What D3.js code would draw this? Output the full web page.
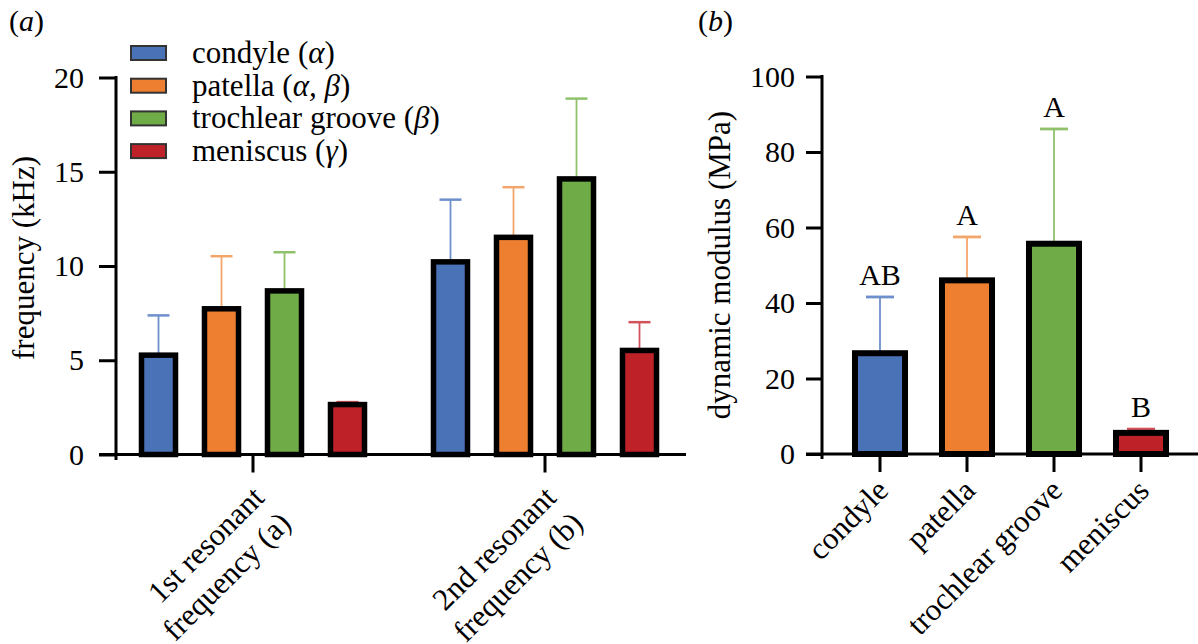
<!DOCTYPE html>
<html><head><meta charset="utf-8">
<script src="https://cdn.jsdelivr.net/npm/d3@7"></script>
<style>
body{margin:0;background:#fff;}
svg{display:block;font-family:"Liberation Serif","Times New Roman",serif;}
</style></head>
<body><svg id="c" width="1198" height="644"></svg>
<script>
// ---- data ----
const seriesNames = ["condyle", "patella", "trochlear groove", "meniscus"];
const legendGreek = ["\u03B1", "\u03B1, \u03B2", "\u03B2", "\u03B3"];
const colors = ["#4a72b6", "#ee7f31", "#6fab46", "#bf2128"];
const errColors = ["#6d90cc", "#f3a66c", "#8fc26b", "#d2545a"];

const freqGroups = ["1st resonant|frequency (a)", "2nd resonant|frequency (b)"];
const freqMean = [[5.27, 7.73, 8.68, 2.65], [10.22, 11.52, 14.62, 5.52]];
const freqUpper = [[7.38, 10.52, 10.73, 2.78], [13.52, 14.18, 18.88, 7.02]];
const freqTicks = [0, 5, 10, 15, 20];

const modMean = [26.7, 46.0, 55.7, 5.6];
const modUpper = [41.6, 57.5, 86.1, 6.6];
const modLetters = ["AB", "A", "A", "B"];
const modTicks = [0, 20, 40, 60, 80, 100];

const svg = d3.select("#c");
const FS = 30;

// ================= Panel (a) =================
const ya = d3.scaleLinear().domain([0, 20]).range([454.5, 77.5]);
const xa = d3.scaleBand().domain(freqGroups).range([107, 691]).paddingInner(0).paddingOuter(0);
const xi = d3.scaleBand().domain(seriesNames).range([-126, 126]).paddingInner(0.46).paddingOuter(0.23);

const ga = svg.append("g");
// error bars
freqGroups.forEach((grp, gi) => {
  const cx0 = xa(grp) + xa.bandwidth() / 2;
  seriesNames.forEach((s, si) => {
    const cx = cx0 + xi(s) + xi.bandwidth() / 2;
    ga.append("line").attr("x1", cx).attr("x2", cx)
      .attr("y1", ya(freqMean[gi][si])).attr("y2", ya(freqUpper[gi][si]))
      .attr("stroke", errColors[si]).attr("stroke-width", 1.8);
    ga.append("line").attr("x1", cx - 11).attr("x2", cx + 11)
      .attr("y1", ya(freqUpper[gi][si])).attr("y2", ya(freqUpper[gi][si]))
      .attr("stroke", errColors[si]).attr("stroke-width", 2.5);
  });
});
// bars
freqGroups.forEach((grp, gi) => {
  const cx0 = xa(grp) + xa.bandwidth() / 2;
  ga.selectAll(null).data(seriesNames).enter().append("rect")
    .attr("x", s => cx0 + xi(s))
    .attr("width", xi.bandwidth())
    .attr("y", (s, si) => ya(freqMean[gi][si]))
    .attr("height", (s, si) => ya(0) - ya(freqMean[gi][si]))
    .attr("fill", (s, si) => colors[si])
    .attr("stroke", "#000").attr("stroke-width", 5.5);
});
// y axis
const yAxA = ga.append("g").attr("transform", "translate(116,0)")
  .call(d3.axisLeft(ya).tickValues(freqTicks).tickSize(17).tickPadding(15).tickSizeOuter(0));
yAxA.select(".domain").remove();
yAxA.append("line").attr("x1", 0).attr("x2", 0).attr("y1", ya(20) - 1.5).attr("y2", 460)
  .attr("stroke", "#000").attr("stroke-width", 3);
// x axis
ga.append("line").attr("x1", 99).attr("x2", 686).attr("y1", ya(0)).attr("y2", ya(0))
  .attr("stroke", "#000").attr("stroke-width", 3);
const xAxA = ga.append("g").attr("transform", `translate(0,${ya(0)})`)
  .call(d3.axisBottom(xa).tickSize(18).tickFormat(""));
xAxA.select(".domain").remove();
// rotated two-line labels
freqGroups.forEach(grp => {
  const cx = xa(grp) + xa.bandwidth() / 2;
  const lines = grp.split("|");
  const t = ga.append("g").attr("transform", `translate(${cx},474) rotate(-45)`)
    .append("text").attr("text-anchor", "end").attr("font-size", FS + 1);
  t.append("tspan").attr("x", -9).attr("y", 27).text(lines[0]);
  t.append("tspan").attr("x", -8).attr("y", 64).text(lines[1]);
});
// y label
ga.append("text").attr("transform", `translate(34,258) rotate(-90)`)
  .attr("text-anchor", "middle").attr("font-size", FS + 1).text("frequency (kHz)");
// panel tag
const ta = ga.append("text").attr("x", 9).attr("y", 31).attr("font-size", FS);
ta.append("tspan").text("(");
ta.append("tspan").attr("font-style", "italic").text("a");
ta.append("tspan").text(")");
// legend
const lg = ga.append("g");
seriesNames.forEach((s, i) => {
  const cy = 53 + i * 32.7;
  lg.append("rect").attr("x", 131).attr("y", cy - 7).attr("width", 35).attr("height", 14)
    .attr("fill", colors[i]).attr("stroke", "#333").attr("stroke-width", 2);
  const t = lg.append("text").attr("x", 192).attr("y", cy + 10).attr("font-size", FS + 1);
  t.append("tspan").text(s + " (");
  t.append("tspan").attr("font-style", "italic").text(legendGreek[i]);
  t.append("tspan").text(")");
});

// ================= Panel (b) =================
const yb = d3.scaleLinear().domain([0, 100]).range([454, 76.5]);
const xb = d3.scaleBand().domain(seriesNames).range([836.5, 1184.5]).paddingInner(0.425).paddingOuter(0.2125);
const gb = svg.append("g");
seriesNames.forEach((s, i) => {
  const cx = xb(s) + xb.bandwidth() / 2;
  gb.append("line").attr("x1", cx).attr("x2", cx).attr("y1", yb(modMean[i])).attr("y2", yb(modUpper[i]))
    .attr("stroke", errColors[i]).attr("stroke-width", 1.8);
  gb.append("line").attr("x1", cx - 14).attr("x2", cx + 14).attr("y1", yb(modUpper[i])).attr("y2", yb(modUpper[i]))
    .attr("stroke", errColors[i]).attr("stroke-width", 2.8);
});
gb.selectAll(null).data(seriesNames).enter().append("rect")
  .attr("x", s => xb(s)).attr("width", xb.bandwidth())
  .attr("y", (s, i) => yb(modMean[i])).attr("height", (s, i) => yb(0) - yb(modMean[i]))
  .attr("fill", (s, i) => colors[i]).attr("stroke", "#000").attr("stroke-width", 6);
gb.selectAll(null).data(modLetters).enter().append("text")
  .attr("x", (d, i) => xb(seriesNames[i]) + xb.bandwidth() / 2)
  .attr("y", (d, i) => yb(modUpper[i]) - 12)
  .attr("text-anchor", "middle").attr("font-size", FS).text(d => d);
const yAxB = gb.append("g").attr("transform", "translate(822,0)")
  .call(d3.axisLeft(yb).tickValues(modTicks).tickSize(16).tickPadding(11).tickSizeOuter(0));
yAxB.select(".domain").remove();
yAxB.append("line").attr("x1", 0).attr("x2", 0).attr("y1", yb(100) - 1.5).attr("y2", 459)
  .attr("stroke", "#000").attr("stroke-width", 3);
gb.append("line").attr("x1", 806).attr("x2", 1198).attr("y1", yb(0)).attr("y2", yb(0))
  .attr("stroke", "#000").attr("stroke-width", 3);
const xAxB = gb.append("g").attr("transform", `translate(0,${yb(0)})`)
  .call(d3.axisBottom(xb).tickSize(18).tickFormat(""));
xAxB.select(".domain").remove();
seriesNames.forEach(s => {
  const cx = xb(s) + xb.bandwidth() / 2;
  gb.append("g").attr("transform", `translate(${cx},474) rotate(-45)`)
    .append("text").attr("text-anchor", "end").attr("x", -6).attr("y", 20)
    .attr("font-size", FS + 1).text(s);
});
gb.append("text").attr("transform", `translate(730,265) rotate(-90)`)
  .attr("text-anchor", "middle").attr("font-size", FS + 1).text("dynamic modulus (MPa)");
const tb = gb.append("text").attr("x", 698).attr("y", 31).attr("font-size", FS);
tb.append("tspan").text("(");
tb.append("tspan").attr("font-style", "italic").text("b");
tb.append("tspan").text(")");

// style axes
svg.selectAll(".tick line").attr("stroke", "#000").attr("stroke-width", 3);
svg.selectAll(".tick text").attr("font-size", FS).attr("font-family", "Liberation Serif, serif").attr("fill", "#000");
</script></body></html>
